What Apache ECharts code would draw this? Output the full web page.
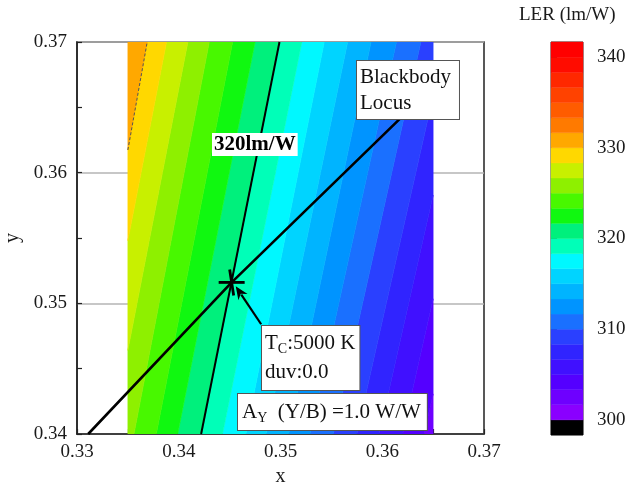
<!DOCTYPE html>
<html><head><meta charset="utf-8">
<script src="https://cdn.jsdelivr.net/npm/echarts@6/dist/echarts.min.js"></script>
<style>html,body{margin:0;padding:0;background:#fff}#c{width:627px;height:494px}</style>
</head><body><div id="c"></div>
<script>
const SERIF = '"Liberation Serif", "Times New Roman", serif';

// LER contour levels (lm/W) and the x where each contour crosses y = 0.34 and y = 0.37
const levels  = [301.67, 303.33, 305.00, 306.67, 308.33, 310.00, 311.67, 313.33, 315.00, 316.67, 318.33, 320.00, 321.67, 323.33, 325.00, 326.67, 328.33, 330.00, 331.67];
const bottomX = [0.3665, 0.3641, 0.3620, 0.3597, 0.3575, 0.3552, 0.3529, 0.3508, 0.3486, 0.3466, 0.3443, 0.3422, 0.3399, 0.3378, 0.3356, 0.3334, 0.3313, 0.3300, 0.3278];
const topX    = [0.3752, 0.3729, 0.3707, 0.3684, 0.3662, 0.3638, 0.3614, 0.3589, 0.3566, 0.3543, 0.3521, 0.3499, 0.3475, 0.3453, 0.3430, 0.3409, 0.3388, 0.3369, 0.3346];
const yBottom = 0.34, yTop = 0.37;
// computed x range of the LER map
const xMinData = 0.335, xMaxData = 0.365;

// colour scale: band lower bounds and colours (bottom to top)
const cbLevels = [298.33, 300.00, 301.67, 303.33, 305.00, 306.67, 308.33, 310.00, 311.67, 313.33, 315.00, 316.67, 318.33, 320.00, 321.67, 323.33, 325.00, 326.67, 328.33, 330.00, 331.67, 333.33, 335.00, 336.67, 338.33, 340.00, 341.67];
const cbColors = ['#000000', '#8a00ff', '#6e00ff', '#5400ff', '#4010ff', '#3024ff', '#2a40ff', '#1a70ff', '#0094ff', '#00b4ff', '#00d4ff', '#00f8ff', '#00ffb8', '#00f07c', '#10f810', '#48f800', '#8ef000', '#c8f000', '#ffd800', '#ffa800', '#ff7a00', '#ff5c00', '#ff4200', '#ff2800', '#ff0c00', '#ff0000'];
const cbTicks = [300, 310, 320, 330, 340];

// blackbody locus through the map area
const locusX = [0.3311, 0.3452, 0.3617];
const locusY = [0.3400, 0.3516, 0.3641];
// 5000 K, duv 0 point and its call-out arrow
const tcPoint = [0.3452, 0.3516];
const arrowTail = [0.3481, 0.3484];
const arrowTip = [0.3456, 0.3513];
const labelLevel = 320;
const dashedLevel = 330;

function colorFor(lo) {
  const k = cbLevels.findIndex(v => Math.abs(v - lo) < 0.05);
  return cbColors[k];
}
function clipX(poly, xmin, xmax) {
  function clipHalf(pts, inside, inter) {
    const out = [];
    for (let i = 0; i < pts.length; i++) {
      const a = pts[i], b = pts[(i + 1) % pts.length];
      const ia = inside(a), ib = inside(b);
      if (ia) out.push(a);
      if (ia !== ib) out.push(inter(a, b));
    }
    return out;
  }
  const at = (xv) => (a, b) => { const t = (xv - a[0]) / (b[0] - a[0]); return [xv, a[1] + t * (b[1] - a[1])]; };
  let p = clipHalf(poly, q => q[0] >= xmin, at(xmin));
  if (p.length) p = clipHalf(p, q => q[0] <= xmax, at(xmax));
  return p;
}

// bands between neighbouring contours, with the outer regions closed at the frame
const n = levels.length;
const bands = [];
for (let i = -1; i < n; i++) {
  const lo = i >= 0 ? [bottomX[i], topX[i]] : [0.40, 0.40];
  const hi = i + 1 < n ? [bottomX[i + 1], topX[i + 1]] : [0.30, 0.30];
  const loLevel = i >= 0 ? levels[i] : cbLevels[cbLevels.findIndex(v => Math.abs(v - levels[0]) < 0.05) - 1];
  const pts = clipX([[lo[0], yBottom], [lo[1], yTop], [hi[1], yTop], [hi[0], yBottom]], xMinData, xMaxData);
  if (pts.length >= 3) bands.push({ pts, color: colorFor(loLevel) });
}

const li = levels.indexOf(labelLevel);
const line320 = [[bottomX[li], yBottom], [topX[li], yTop]];
const di = levels.indexOf(dashedLevel);
const dashSeg = (() => {
  const a = [bottomX[di], yBottom], b = [topX[di], yTop];
  const t = (xMinData - a[0]) / (b[0] - a[0]);
  return [[xMinData, a[1] + t * (b[1] - a[1])], b];
})();

const chart = echarts.init(document.getElementById('c'), null, { renderer: 'canvas' });
const axisText = { fontFamily: SERIF, fontSize: 19, color: '#1a1a1a' };

chart.setOption({
  animation: false,
  backgroundColor: '#ffffff',
  grid: [
    { left: 77, top: 42, width: 407, height: 392, outerBoundsMode: 'none', containLabel: false, show: true, borderColor: '#222', borderWidth: 1.5, backgroundColor: 'transparent' },
    { left: 551, top: 42, width: 32, height: 393, outerBoundsMode: 'none', containLabel: false, show: true, borderColor: '#333', borderWidth: 1, backgroundColor: 'transparent' }
  ],
  xAxis: [
    {
      gridIndex: 0, type: 'value', min: 0.33, max: 0.37, interval: 0.01,
      name: 'x', nameLocation: 'middle', nameGap: 28, nameTextStyle: { fontFamily: SERIF, fontSize: 20, color: '#1a1a1a' },
      axisLine: { lineStyle: { color: '#222', width: 1.5 } },
      axisTick: { inside: true, length: 5, lineStyle: { color: '#222', width: 1.2 } },
      minorTick: { show: true, splitNumber: 2, length: 5, lineStyle: { color: '#222', width: 1.2 } },
      axisLabel: Object.assign({ margin: 9, formatter: v => v.toFixed(2) }, axisText),
      splitLine: { show: false }
    },
    { gridIndex: 1, type: 'value', min: 0, max: 1, show: false }
  ],
  yAxis: [
    {
      gridIndex: 0, type: 'value', min: 0.34, max: 0.37, interval: 0.01,
      name: 'y', nameLocation: 'middle', nameGap: 47, nameTextStyle: { fontFamily: SERIF, fontSize: 20, color: '#1a1a1a' },
      axisLine: { lineStyle: { color: '#222', width: 1.5 } },
      axisTick: { inside: true, length: 5, lineStyle: { color: '#222', width: 1.2 } },
      minorTick: { show: true, splitNumber: 2, length: 5, lineStyle: { color: '#222', width: 1.2 } },
      axisLabel: Object.assign({ margin: 10, formatter: v => v.toFixed(2) }, axisText),
      splitLine: { show: true, lineStyle: { color: '#b4b4b4', width: 1.5 } }
    },
    {
      gridIndex: 1, type: 'value', min: cbLevels[0], max: cbLevels[cbLevels.length - 1], position: 'right',
      axisLine: { show: false },
      axisTick: { show: true, inside: false, length: 6, customValues: cbTicks, lineStyle: { color: '#333', width: 1 } },
      axisLabel: Object.assign({ margin: 14, customValues: cbTicks }, axisText),
      splitLine: { show: false }
    }
  ],
  series: [
    {
      type: 'custom', xAxisIndex: 0, yAxisIndex: 0, z: 1, clip: true,
      data: bands.map((b, i) => [b.pts[0][0], b.pts[0][1], i]),
      renderItem: (params, api) => {
        const b = bands[params.dataIndex];
        return { type: 'polygon', shape: { points: b.pts.map(p => api.coord(p)) }, style: { fill: b.color, stroke: b.color, lineWidth: 0.6 } };
      }
    },
    {
      type: 'line', xAxisIndex: 0, yAxisIndex: 0, z: 3, symbol: 'none',
      data: dashSeg, lineStyle: { color: '#555', width: 1, type: [3, 2] }
    },
    {
      type: 'line', xAxisIndex: 0, yAxisIndex: 0, z: 4, symbol: 'none',
      data: line320, lineStyle: { color: '#000', width: 2 }
    },
    {
      type: 'line', xAxisIndex: 0, yAxisIndex: 0, z: 4, symbol: 'none',
      data: locusX.map((x, i) => [x, locusY[i]]), lineStyle: { color: '#000', width: 2.6 }
    },
    {
      type: 'custom', xAxisIndex: 0, yAxisIndex: 0, z: 5, clip: false,
      data: [[tcPoint[0], tcPoint[1]]],
      renderItem: (params, api) => {
        const c = api.coord(tcPoint);
        const t = api.coord(arrowTip), s = api.coord(arrowTail);
        const dx = t[0] - s[0], dy = t[1] - s[1], len = Math.hypot(dx, dy);
        const ux = dx / len, uy = dy / len, nx = -uy, ny = ux;
        const hl = 13, hw = 5.5;
        const base = [t[0] - ux * hl, t[1] - uy * hl];
        const lineStyle = { stroke: '#000', lineWidth: 2.8 };
        return {
          type: 'group',
          children: [
            { type: 'line', shape: { x1: c[0] - 13, y1: c[1], x2: c[0] + 13, y2: c[1] }, style: lineStyle },
            { type: 'line', shape: { x1: c[0] - 2, y1: c[1] - 13, x2: c[0] + 2, y2: c[1] + 13 }, style: lineStyle },
            { type: 'line', shape: { x1: s[0], y1: s[1], x2: base[0] + ux * 3, y2: base[1] + uy * 3 }, style: { stroke: '#000', lineWidth: 2.2 } },
            { type: 'polygon', shape: { points: [t, [base[0] + nx * hw, base[1] + ny * hw], [t[0] - ux * 9, t[1] - uy * 9], [base[0] - nx * hw, base[1] - ny * hw]] }, style: { fill: '#000' } }
          ]
        };
      }
    },
    {
      type: 'custom', xAxisIndex: 1, yAxisIndex: 1, z: 1,
      data: cbColors.map((c, i) => [0, cbLevels[i], cbLevels[i + 1], i]),
      renderItem: (params, api) => {
        const i = params.dataIndex;
        const p0 = api.coord([0, cbLevels[i]]), p1 = api.coord([1, cbLevels[i + 1]]);
        return { type: 'rect', shape: { x: p0[0], y: p1[1], width: p1[0] - p0[0], height: p0[1] - p1[1] }, style: { fill: cbColors[i], stroke: cbColors[i], lineWidth: 0.4 } };
      }
    }
  ],
  graphic: [
    { type: 'text', z: 100, left: 519, top: 6, style: { text: 'LER (lm/W)', fontFamily: SERIF, fontSize: 19, fill: '#1a1a1a' } },
    { type: 'text', z: 100, left: 212, top: 133, style: { text: '320lm/W', fontFamily: SERIF, fontSize: 21, fontWeight: 'bold', fill: '#000', backgroundColor: '#fff', padding: [1, 2, 1, 2] } },
    { type: 'text', z: 100, left: 356, top: 60, style: { text: 'Blackbody\nLocus', fontFamily: SERIF, fontSize: 21, lineHeight: 26, fill: '#111', backgroundColor: '#fff', borderColor: '#555', borderWidth: 1, padding: [3, 8, 3, 3] } },
    {
      type: 'text', z: 100, left: 261, top: 325,
      style: {
        text: '{n|T}{s|C}{n|:5000 K}\n{n|duv:0.0}', fill: '#111', backgroundColor: '#fff', borderColor: '#555', borderWidth: 1, padding: [3, 4, 3, 3],
        rich: { n: { fontFamily: SERIF, fontSize: 21, lineHeight: 29 }, s: { fontFamily: SERIF, fontSize: 14, lineHeight: 29, padding: [12, 0, 0, 0] } }
      }
    },
    {
      type: 'text', z: 100, left: 237, top: 393,
      style: {
        text: '{n|A}{s|Y}{n|  (Y/B) =1.0 W/W}', fill: '#111', backgroundColor: '#fff', borderColor: '#555', borderWidth: 1, padding: [3, 6, 3, 4],
        rich: { n: { fontFamily: SERIF, fontSize: 21, lineHeight: 30 }, s: { fontFamily: SERIF, fontSize: 14, lineHeight: 30, padding: [12, 0, 0, 0] } }
      }
    }
  ]
});
</script>
</body></html>
